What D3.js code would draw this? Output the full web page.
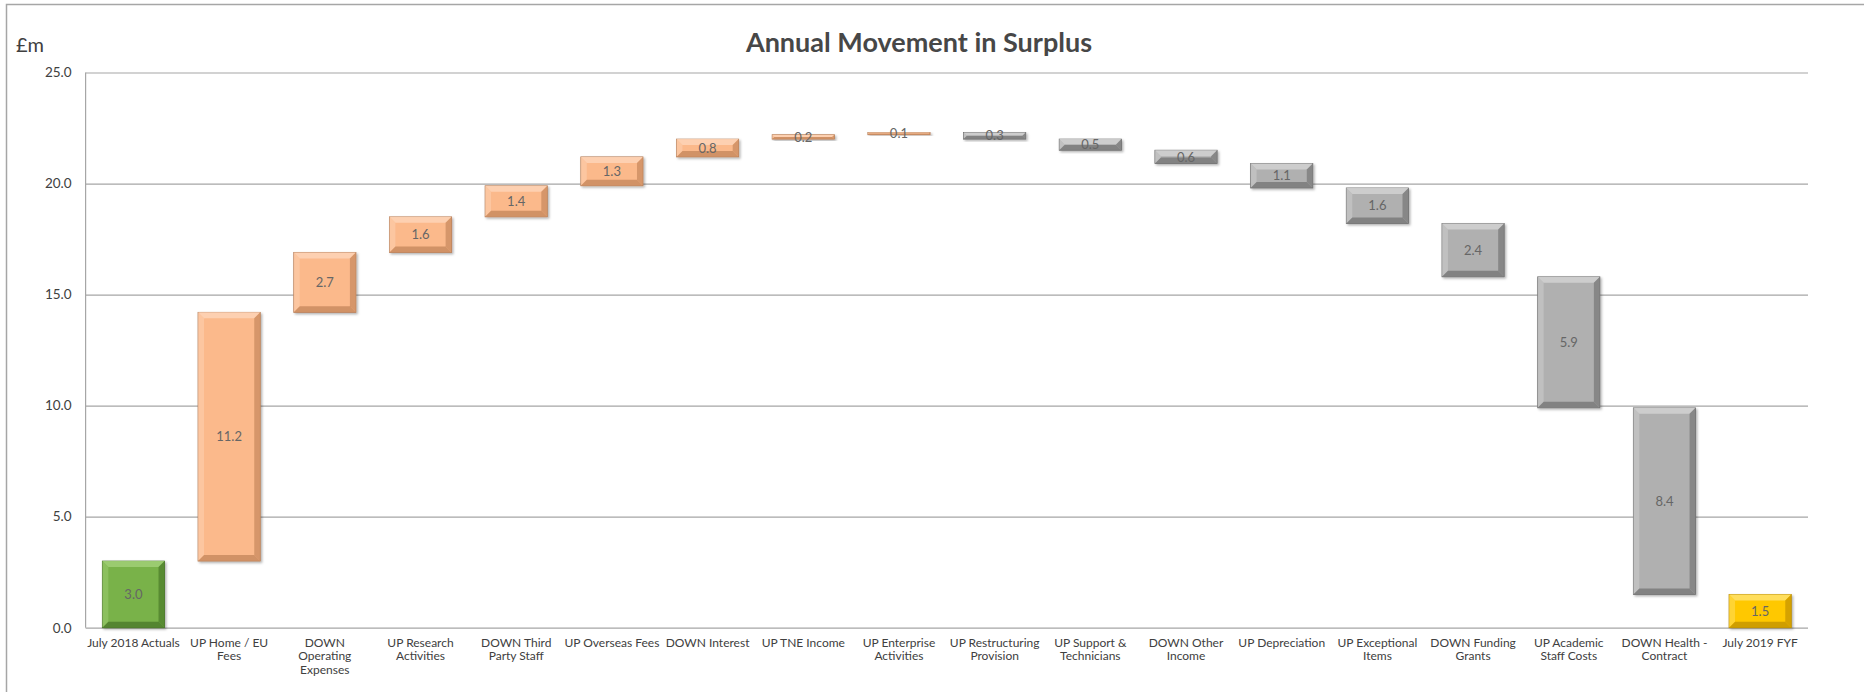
<!DOCTYPE html>
<html>
<head>
<meta charset="utf-8">
<script src="https://cdn.jsdelivr.net/npm/d3@7"></script>
<style>
  html, body { margin: 0; padding: 0; background: #fff; }
  svg { display: block; }
  text { font-family: Lato, "Open Sans", sans-serif; }
</style>
</head>
<body>
<svg id="chart" width="1864" height="692"></svg>
<script>
// Waterfall steps: category names (line breaks as shown on the axis) and movement in £m
const categories = [
  "July 2018 Actuals",
  "UP Home / EU\nFees",
  "DOWN\nOperating\nExpenses",
  "UP Research\nActivities",
  "DOWN Third\nParty Staff",
  "UP Overseas Fees",
  "DOWN Interest",
  "UP TNE Income",
  "UP Enterprise\nActivities",
  "UP Restructuring\nProvision",
  "UP Support &\nTechnicians",
  "DOWN Other\nIncome",
  "UP Depreciation",
  "UP Exceptional\nItems",
  "DOWN Funding\nGrants",
  "UP Academic\nStaff Costs",
  "DOWN Health -\nContract",
  "July 2019 FYF"
];
const movements = [3.0, 11.2, 2.7, 1.6, 1.4, 1.3, 0.8, 0.2, 0.1, -0.3, -0.5, -0.6, -1.1, -1.6, -2.4, -5.9, -8.4, 1.5];
const stepKinds = ["start", "up", "up", "up", "up", "up", "up", "up", "up",
                   "down", "down", "down", "down", "down", "down", "down", "down", "end"];
const yTicks = [0, 5, 10, 15, 20, 25];

// Fill / bevel palettes per step kind
const palette = {
  start: { base: "#79b24a", light: "#9fcd74", dark: "#4d7d2b", edge: "#446f26" },
  up:    { base: "#fbb98b", light: "#fdd3b5", dark: "#c98b5f", edge: "#b07a55" },
  down:  { base: "#b0b0b0", light: "#d0d0d0", dark: "#7a7a7a", edge: "#6a6a6a" },
  end:   { base: "#ffc800", light: "#ffe066", dark: "#c79600", edge: "#b08400" }
};

// Build the floating segments from the running total
let running = 0;
const bars = categories.map((c, i) => {
  const kind = stepKinds[i];
  let lo, hi;
  if (kind === "start" || kind === "end") {
    lo = 0; hi = movements[i]; running = movements[i];
  } else {
    const next = running + movements[i];
    lo = Math.min(running, next); hi = Math.max(running, next);
    running = next;
  }
  return { category: c, kind, lo, hi, value: Math.abs(movements[i]) };
});

const W = 1864, H = 692;
const margin = { top: 72.5, right: 56, bottom: 64.3, left: 85.6 };
const innerW = W - margin.left - margin.right;
const innerH = H - margin.top - margin.bottom;

const svg = d3.select("#chart");

// Chart frame
svg.append("rect")
  .attr("x", 6.5).attr("y", 4.5)
  .attr("width", 1900).attr("height", 900)
  .attr("fill", "none").attr("stroke", "#a6a6a6").attr("stroke-width", 1.5);

const x = d3.scaleBand().domain(categories).range([0, innerW]).paddingInner(0.35).paddingOuter(0.175);
const y = d3.scaleLinear().domain([0, 25]).range([innerH, 0]);

const g = svg.append("g").attr("transform", `translate(${margin.left},${margin.top})`);

// Title and unit label
svg.append("text")
  .attr("x", 919).attr("y", 52)
  .attr("text-anchor", "middle")
  .attr("font-size", 27).attr("font-weight", 700)
  .attr("fill", "#474747")
  .text("Annual Movement in Surplus");

svg.append("text")
  .attr("x", 16).attr("y", 52)
  .attr("font-size", 20)
  .attr("fill", "#404040")
  .text("£m");

// Y axis with horizontal gridlines
const yAxis = g.append("g")
  .call(d3.axisLeft(y).tickValues(yTicks).tickFormat(d3.format(".1f")).tickSize(-innerW).tickPadding(14));
yAxis.select(".domain").remove();
yAxis.selectAll(".tick line").attr("stroke", "#a6a6a6").attr("stroke-width", 1.2);
yAxis.selectAll(".tick text").attr("font-size", 13.5).attr("fill", "#404040")
  .style("font-family", "Lato, sans-serif");

// Vertical axis line
g.append("line")
  .attr("x1", 0).attr("x2", 0).attr("y1", 0).attr("y2", innerH)
  .attr("stroke", "#a6a6a6").attr("stroke-width", 1.2);

// X axis with multi-line category labels
const xAxis = g.append("g")
  .attr("transform", `translate(0,${innerH})`)
  .call(d3.axisBottom(x).tickSize(0).tickPadding(0));
xAxis.select(".domain").remove();
xAxis.selectAll(".tick text").each(function (d) {
  const t = d3.select(this);
  t.text(null).attr("y", 0).attr("dy", null)
    .attr("font-size", 12).attr("fill", "#404040")
    .style("font-family", "Lato, sans-serif");
  d.split("\n").forEach((line, k) => {
    t.append("tspan").attr("x", 0).attr("y", 19 + k * 13.6).text(line);
  });
});

// Shadow filter for the bevelled blocks
const defs = svg.append("defs");
const f = defs.append("filter").attr("id", "shadow").attr("x", "-20%").attr("y", "-20%").attr("width", "150%").attr("height", "150%");
f.append("feDropShadow").attr("dx", 1.5).attr("dy", 1.5).attr("stdDeviation", 1.2)
  .attr("flood-color", "#000").attr("flood-opacity", 0.3);

// Bevelled bars
const barG = g.append("g").selectAll("g.bar").data(bars).join("g").attr("class", "bar");

barG.each(function (d) {
  const sel = d3.select(this);
  const p = palette[d.kind];
  const x0 = x(d.category), x1 = x0 + x.bandwidth();
  const y0 = y(d.hi), y1 = y(d.lo);
  const h = y1 - y0;
  const b = Math.max(0.5, Math.min(6, h / 2));

  sel.append("rect")
    .attr("x", x0).attr("y", y0).attr("width", x1 - x0).attr("height", Math.max(h, 1))
    .attr("fill", p.base).attr("stroke", p.edge).attr("stroke-width", 0.8)
    .attr("filter", "url(#shadow)");

  const poly = (pts, fill, op) => sel.append("polygon")
    .attr("points", pts.map(q => q.join(",")).join(" "))
    .attr("fill", fill).attr("opacity", op);

  poly([[x0, y0], [x1, y0], [x1 - b, y0 + b], [x0 + b, y0 + b]], p.light, 0.9);
  poly([[x0, y0], [x0 + b, y0 + b], [x0 + b, y1 - b], [x0, y1]], p.light, 0.5);
  poly([[x1, y0], [x1, y1], [x1 - b, y1 - b], [x1 - b, y0 + b]], p.dark, 0.75);
  poly([[x0, y1], [x0 + b, y1 - b], [x1 - b, y1 - b], [x1, y1]], p.dark, 0.85);
});

// Value labels centred on each block
g.append("g").selectAll("text").data(bars).join("text")
  .attr("x", d => x(d.category) + x.bandwidth() / 2)
  .attr("y", d => (y(d.hi) + y(d.lo)) / 2)
  .attr("dy", "0.36em")
  .attr("text-anchor", "middle")
  .attr("font-size", 13)
  .attr("fill", "#666666")
  .text(d => d.value.toFixed(1));
</script>
</body>
</html>
